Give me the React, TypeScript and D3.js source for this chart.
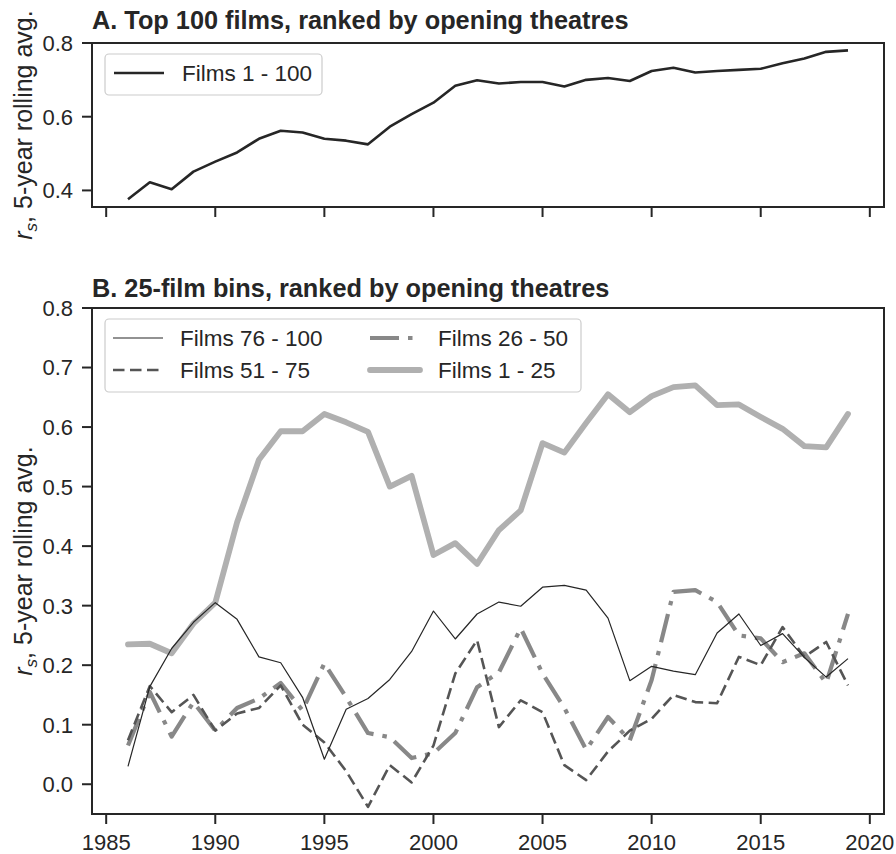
import React from "react";
import * as d3 from "d3";

const years: number[] = Array.from({ length: 34 }, (_, i) => 1986 + i);

const films1to100: number[] = [
  0.376, 0.422, 0.403, 0.451, 0.478, 0.503, 0.54, 0.562, 0.557, 0.54,
  0.535, 0.525, 0.573, 0.607, 0.638, 0.684, 0.699, 0.69, 0.694, 0.694,
  0.682, 0.7, 0.705, 0.697, 0.724, 0.733, 0.72, 0.724, 0.727, 0.73,
  0.745, 0.758, 0.776, 0.78,
];

const films76to100: number[] = [
  0.03, 0.164, 0.228, 0.272, 0.305, 0.277, 0.214, 0.204, 0.146, 0.042,
  0.126, 0.144, 0.176, 0.223, 0.291, 0.244, 0.286, 0.306, 0.299, 0.331,
  0.334, 0.326, 0.279, 0.174, 0.198, 0.19, 0.184, 0.254, 0.286, 0.233,
  0.253, 0.213, 0.18, 0.211,
];

const films51to75: number[] = [
  0.074, 0.165, 0.121, 0.15, 0.09, 0.119, 0.128, 0.166, 0.1, 0.07,
  0.022, -0.038, 0.032, 0.003, 0.065, 0.186, 0.242, 0.096, 0.141, 0.121,
  0.032, 0.007, 0.055, 0.09, 0.11, 0.15, 0.138, 0.136, 0.214, 0.2,
  0.264, 0.214, 0.239, 0.166,
];

const films26to50: number[] = [
  0.065, 0.155, 0.08, 0.138, 0.09, 0.128, 0.144, 0.17, 0.124, 0.203,
  0.146, 0.086, 0.079, 0.044, 0.052, 0.086, 0.163, 0.188, 0.262, 0.186,
  0.128, 0.058, 0.113, 0.074, 0.175, 0.323, 0.326, 0.306, 0.25, 0.245,
  0.205, 0.22, 0.17, 0.286,
];

const films1to25: number[] = [
  0.235, 0.236, 0.22, 0.27, 0.305, 0.44, 0.545, 0.593, 0.593, 0.622,
  0.608, 0.592, 0.5, 0.518, 0.385, 0.405, 0.37, 0.427, 0.46, 0.573,
  0.557, 0.607, 0.655, 0.625, 0.652, 0.667, 0.67, 0.637, 0.638, 0.617,
  0.597, 0.568, 0.566, 0.622,
];

const xTicks: number[] = [1985, 1990, 1995, 2000, 2005, 2010, 2015, 2020];
const yTicksTop: number[] = [0.4, 0.6, 0.8];
const yTicksBottom: number[] = [0.0, 0.1, 0.2, 0.3, 0.4, 0.5, 0.6, 0.7, 0.8];

const titleA = "A. Top 100 films, ranked by opening theatres";
const titleB = "B. 25-film bins, ranked by opening theatres";

const FONT = "'Liberation Sans', Arial, Helvetica, sans-serif";
const INK = "#262626";
const TICK_FS = 22;
const LEGEND_FS = 22.5;
const LABEL_FS = 25;
const TITLE_FS = 25.3;

type Series = {
  label: string;
  values: number[];
  color: string;
  width: number;
  dash?: string;
  cap: "butt" | "round" | "square";
};

const bottomSeries: Series[] = [
  { label: "Films 1 - 25", values: films1to25, color: "#b0b0b0", width: 5.8, cap: "round" },
  { label: "Films 26 - 50", values: films26to50, color: "#888888", width: 4.2, dash: "29 9 4.5 9", cap: "butt" },
  { label: "Films 51 - 75", values: films51to75, color: "#555555", width: 2.6, dash: "11.5 5.5", cap: "butt" },
  { label: "Films 76 - 100", values: films76to100, color: INK, width: 1.2, cap: "butt" },
];

const legendOrder = ["Films 76 - 100", "Films 51 - 75", "Films 26 - 50", "Films 1 - 25"];

const W = 896;
const H = 854;
const left = 92;
const right = 884;

const x = d3.scaleLinear().domain([1984.35, 2020.65]).range([left, right]);
const yTop = d3.scaleLinear().domain([0.355, 0.8]).range([207, 43]);
const yBot = d3.scaleLinear().domain([-0.05, 0.8]).range([814, 308]);

function YLabel({ cx, cy }: { cx: number; cy: number }) {
  return (
    <text
      transform={`translate(${cx},${cy}) rotate(-90)`}
      textAnchor="middle"
      fontFamily={FONT}
      fontSize={LABEL_FS}
      fill={INK}
    >
      <tspan fontStyle="italic">r</tspan>
      <tspan fontStyle="italic" fontSize={17} dy={5}>s</tspan>
      <tspan dy={-5}>, 5-year rolling avg.</tspan>
    </text>
  );
}

function Axes({
  y,
  yTicks,
  fmt,
  showXLabels,
}: {
  y: d3.ScaleLinear<number, number>;
  yTicks: number[];
  fmt: (v: number) => string;
  showXLabels: boolean;
}) {
  const [y0, y1] = y.range();
  return (
    <g>
      <rect x={left} y={y1} width={right - left} height={y0 - y1} fill="none" stroke={INK} strokeWidth={2} />
      {yTicks.map((t) => (
        <g key={t}>
          <line x1={left - 10} x2={left} y1={y(t)} y2={y(t)} stroke={INK} strokeWidth={2} />
          <text x={left - 19} y={y(t)} dy="0.36em" textAnchor="end" fontFamily={FONT} fontSize={TICK_FS} fill={INK}>
            {fmt(t)}
          </text>
        </g>
      ))}
      {xTicks.map((t) => (
        <g key={t}>
          <line x1={x(t)} x2={x(t)} y1={y0} y2={y0 + 10} stroke={INK} strokeWidth={2} />
          {showXLabels && (
            <text x={x(t)} y={y0 + 36} textAnchor="middle" fontFamily={FONT} fontSize={TICK_FS} fill={INK}>
              {t}
            </text>
          )}
        </g>
      ))}
    </g>
  );
}

export default function App() {
  const lineTop = d3
    .line<number>()
    .x((_, i) => x(years[i]))
    .y((d) => yTop(d));
  const lineBot = d3
    .line<number>()
    .x((_, i) => x(years[i]))
    .y((d) => yBot(d));

  const byLabel: Record<string, Series> = {};
  bottomSeries.forEach((s) => (byLabel[s.label] = s));

  const legendCells = legendOrder.map((lab, i) => ({
    s: byLabel[lab],
    col: Math.floor(i / 2),
    row: i % 2,
  }));

  return (
    <svg width={W} height={H} style={{ display: "block", position: "absolute", left: 0, top: 0 }}>
      <rect width={W} height={H} fill="#ffffff" />

      {/* Panel A */}
      <text x={92} y={29} fontFamily={FONT} fontSize={TITLE_FS} fontWeight="bold" fill={INK}>
        {titleA}
      </text>
      <Axes y={yTop} yTicks={yTicksTop} fmt={d3.format(".1f")} showXLabels={false} />
      <path d={lineTop(films1to100) || ""} fill="none" stroke={INK} strokeWidth={2.6} strokeLinejoin="round" />
      <g>
        <rect x={105} y={54} width={217} height={41} rx={4} fill="#ffffff" fillOpacity={0.8} stroke="#cccccc" strokeWidth={1.2} />
        <line x1={114} x2={164} y1={73} y2={73} stroke={INK} strokeWidth={2.6} />
        <text x={182} y={73} dy="0.36em" fontFamily={FONT} fontSize={LEGEND_FS} fill={INK}>
          Films 1 - 100
        </text>
      </g>
      <YLabel cx={32} cy={125} />

      {/* Panel B */}
      <text x={92} y={297} fontFamily={FONT} fontSize={TITLE_FS} fontWeight="bold" fill={INK}>
        {titleB}
      </text>
      <Axes y={yBot} yTicks={yTicksBottom} fmt={d3.format(".1f")} showXLabels={true} />
      <defs>
        <clipPath id="clipB">
          <rect x={left} y={308} width={right - left} height={814 - 308} />
        </clipPath>
      </defs>
      <g clipPath="url(#clipB)">
        {bottomSeries.map((s) => (
          <path
            key={s.label}
            d={lineBot(s.values) || ""}
            fill="none"
            stroke={s.color}
            strokeWidth={s.width}
            strokeDasharray={s.dash}
            strokeLinejoin="round"
            strokeLinecap={s.cap}
          />
        ))}
      </g>
      <g>
        <rect x={105} y={319} width={476} height={73} rx={4} fill="#ffffff" fillOpacity={0.8} stroke="#cccccc" strokeWidth={1.2} />
        {legendCells.map(({ s, col, row }) => {
          const lx = col === 0 ? 113 : 370;
          const ly = 338 + row * 32;
          const tx = col === 0 ? 180 : 438;
          return (
            <g key={s.label}>
              <line
                x1={lx}
                x2={lx + 50}
                y1={ly}
                y2={ly}
                stroke={s.color}
                strokeWidth={s.width}
                strokeDasharray={s.dash}
                strokeLinecap={s.cap}
              />
              <text x={tx} y={ly} dy="0.36em" fontFamily={FONT} fontSize={LEGEND_FS} fill={INK}>
                {s.label}
              </text>
            </g>
          );
        })}
      </g>
      <YLabel cx={32} cy={561} />
    </svg>
  );
}
